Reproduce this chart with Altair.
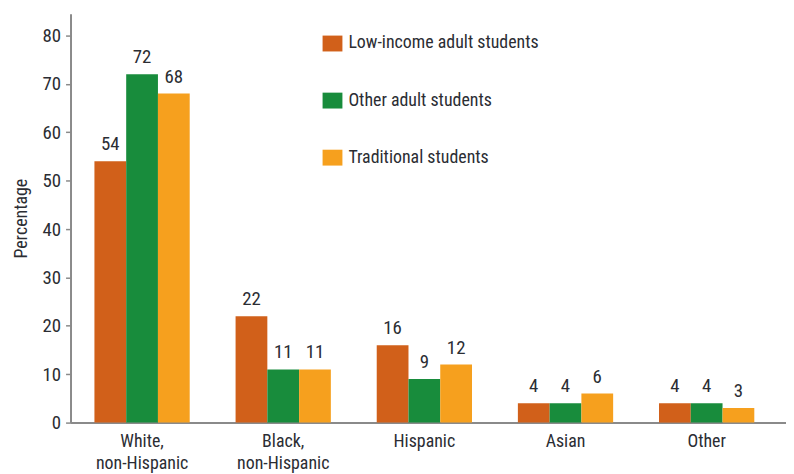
import altair as alt
import pandas as pd

categories = ["White, non-Hispanic", "Black, non-Hispanic", "Hispanic", "Asian", "Other"]
series = ["Low-income adult students", "Other adult students", "Traditional students"]
low_income = [54, 22, 16, 4, 4]
other_adult = [72, 11, 9, 4, 4]
traditional = [68, 11, 12, 6, 3]
colors = ["#D1601A", "#188C3C", "#F6A01E"]
y_ticks = [0, 10, 20, 30, 40, 50, 60, 70, 80]

rows = []
for s, vals in zip(series, [low_income, other_adult, traditional]):
    for c, v in zip(categories, vals):
        rows.append({"group": c, "series": s, "value": v})
df = pd.DataFrame(rows)

FONT = "Liberation Sans Narrow, Roboto Condensed, Arial Narrow, Liberation Sans, sans-serif"
TXT = "#2B2D33"
AX = "#8A8A8A"

x_enc = alt.X(
    "group:N",
    sort=categories,
    title=None,
    scale=alt.Scale(paddingInner=0.325, paddingOuter=0.197, align=0.43),
    axis=alt.Axis(
        labelAngle=0,
        labelExpr="split(replace(datum.label, ', ', ',~'), '~')",
        labelFont=FONT,
        labelFontSize=18,
        labelColor=TXT,
        labelLineHeight=22,
        labelPadding=10,
        labelLimit=0,
        ticks=False,
        domainColor=AX,
        domainWidth=2,
    ),
)
xoff = alt.XOffset("series:N", sort=series, scale=alt.Scale(paddingInner=0, paddingOuter=0))
y_enc = alt.Y(
    "value:Q",
    title="Percentage",
    scale=alt.Scale(domain=[0, 84.5], nice=False, zero=True),
    axis=alt.Axis(
        values=y_ticks,
        grid=False,
        labelFont=FONT,
        labelFontSize=19,
        labelColor=TXT,
        labelPadding=5,
        tickSize=5,
        tickColor=AX,
        tickWidth=1.5,
        domainColor=AX,
        domainWidth=2,
        titleFont=FONT,
        titleFontSize=18,
        titleFontWeight="normal",
        titleColor=TXT,
        titlePadding=12,
    ),
)

bars = alt.Chart(df).mark_bar().encode(
    x=x_enc,
    xOffset=xoff,
    y=y_enc,
    color=alt.Color(
        "series:N",
        sort=series,
        scale=alt.Scale(domain=series, range=colors),
        legend=alt.Legend(
            orient="none",
            legendX=254,
            legendY=20,
            title=None,
            symbolType="M-1,-0.8H1V0.8H-1Z",
            symbolSize=400,
            symbolStrokeWidth=0,
            symbolOpacity=1,
            labelFont=FONT,
            labelFontSize=18,
            labelColor=TXT,
            labelOffset=6,
            labelLimit=0,
            rowPadding=38.5,
            padding=0,
        ),
    ),
)

labels = alt.Chart(df).mark_text(
    baseline="bottom", dy=-7, font=FONT, fontSize=19, color=TXT
).encode(
    x=alt.X("group:N", sort=categories),
    xOffset=xoff,
    y=alt.Y("value:Q"),
    text=alt.Text("value:Q"),
)

chart = alt.layer(bars, labels).properties(
    width=721,
    height=412,
    autosize=alt.AutoSizeParams(type="none"),
    padding={"left": 63, "top": 4, "right": 0, "bottom": 50},
).configure_view(stroke=None)

chart.save("out.html", embed_options={"renderer": "svg", "actions": False})
